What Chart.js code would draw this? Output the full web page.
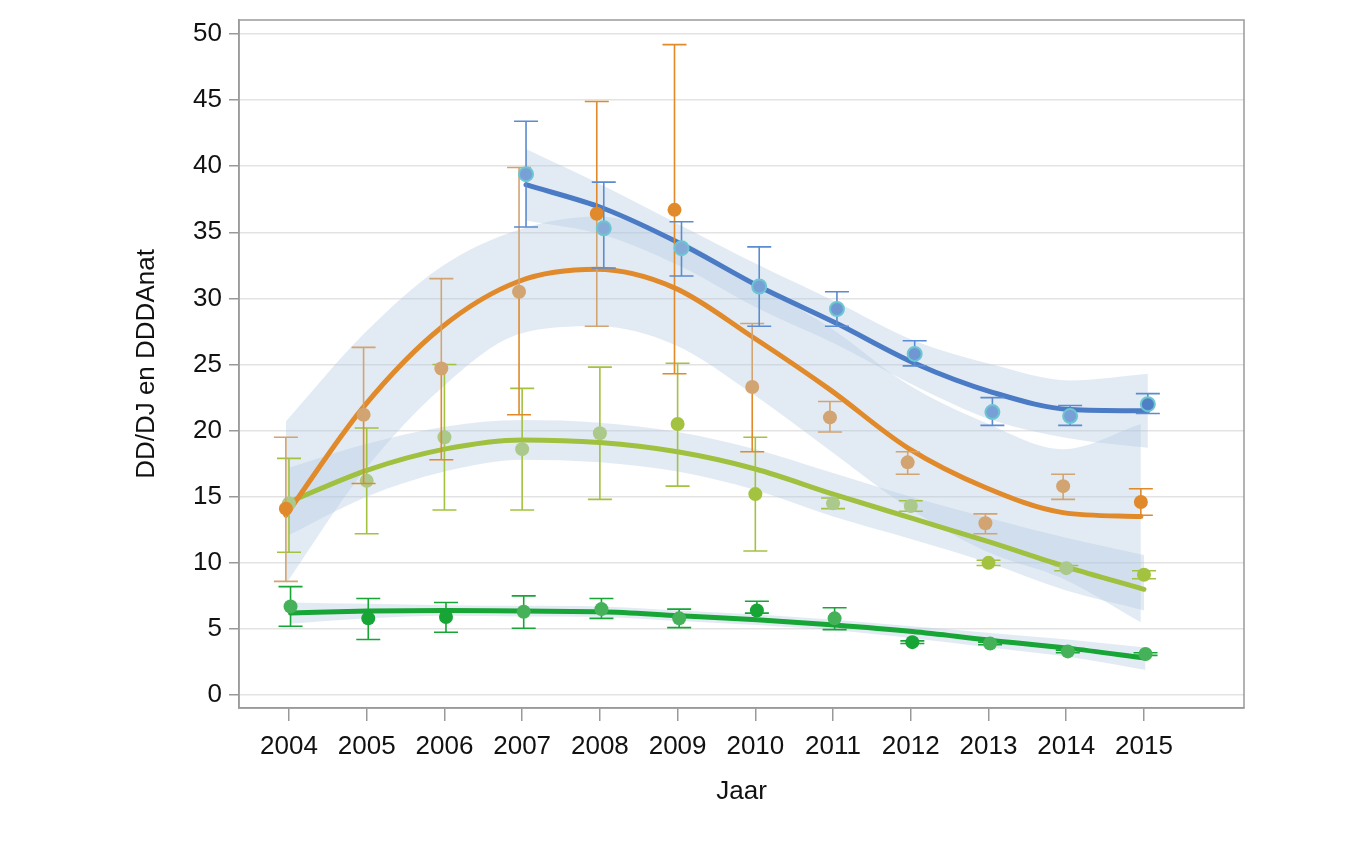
<!DOCTYPE html>
<html>
<head>
<meta charset="utf-8">
<script src="https://cdn.jsdelivr.net/npm/chart.js@4.4.1/dist/chart.umd.min.js"></script>
<style>
    html, body { margin: 0; padding: 0; background: #fff; }
    #chart { display: block; }
</style>
</head>
<body>
<canvas id="chart" width="1372" height="850"></canvas>
<script>
// Axis data
const years = [2004, 2005, 2006, 2007, 2008, 2009, 2010, 2011, 2012, 2013, 2014, 2015];
const blueYears = [2007, 2008, 2009, 2010, 2011, 2012, 2013, 2014, 2015];
const yTicks = [0, 5, 10, 15, 20, 25, 30, 35, 40, 45, 50];

// Blue series (2007-2015)
const bluePts = [39.4, 35.3, 33.8, 30.9, 29.2, 25.8, 21.4, 21.1, 22.0];
const blueLo = [35.4, 32.3, 31.7, 27.9, 27.9, 24.9, 20.4, 20.4, 21.3];
const blueHi = [43.4, 38.8, 35.8, 33.9, 30.5, 26.8, 22.5, 21.9, 22.8];
const blueFit = [38.6, 36.8, 34.1, 30.9, 28.1, 25.1, 22.9, 21.6, 21.5];
const blueBandLo = [35.9, 34.8, 32.4, 29.2, 26.5, 23.4, 20.8, 19.4, 18.7];
const blueBandHi = [41.3, 38.5, 35.5, 32.5, 29.7, 26.8, 25.0, 23.8, 24.3];

// Orange series
const orangePts = [14.1, 21.2, 24.7, 30.5, 36.4, 36.7, 23.3, 21.0, 17.6, 13.0, 15.8, 14.6];
const orangeLo = [8.6, 16.0, 17.8, 21.2, 27.9, 24.3, 18.4, 19.9, 16.7, 12.2, 14.8, 13.6];
const orangeHi = [19.5, 26.3, 31.5, 39.9, 44.9, 49.2, 28.1, 22.2, 18.4, 13.7, 16.7, 15.6];
const orangeFit = [13.6, 21.8, 27.8, 31.3, 32.2, 30.8, 27.1, 23.1, 18.7, 15.7, 13.8, 13.5];
const orangeBandLo = [8.4, 16.9, 23.2, 27.3, 27.9, 26.5, 22.8, 18.5, 14.2, 10.9, 8.8, 5.5];
const orangeBandHi = [20.7, 27.3, 32.4, 35.2, 36.2, 34.6, 31.2, 27.8, 23.5, 20.6, 18.6, 20.5];

// Light green series
const limePts = [14.5, 16.2, 19.5, 18.6, 19.8, 20.5, 15.2, 14.5, 14.3, 10.0, 9.6, 9.1];
const limeLo = [10.8, 12.2, 14.0, 14.0, 14.8, 15.8, 10.9, 14.1, 13.9, 9.8, 9.4, 8.8];
const limeHi = [17.9, 20.2, 25.0, 23.2, 24.8, 25.1, 19.5, 14.9, 14.7, 10.2, 9.8, 9.4];
const limeFit = [14.6, 17.0, 18.6, 19.3, 19.1, 18.4, 17.1, 15.2, 13.4, 11.6, 9.7, 8.0];
const limeBandLo = [12.1, 15.0, 16.9, 17.8, 17.6, 16.9, 15.5, 13.5, 11.8, 10.0, 7.9, 6.4];
const limeBandHi = [17.2, 19.0, 20.3, 20.8, 20.6, 19.9, 18.6, 16.8, 15.0, 13.4, 11.9, 10.6];

// Dark green series
const greenPts = [6.7, 5.8, 5.9, 6.3, 6.5, 5.8, 6.4, 5.8, 4.0, 3.9, 3.3, 3.1];
const greenLo = [5.2, 4.2, 4.75, 5.05, 5.8, 5.1, 6.2, 4.95, 3.9, 3.8, 3.2, 3.0];
const greenHi = [8.2, 7.3, 7.0, 7.5, 7.3, 6.5, 7.1, 6.6, 4.1, 4.0, 3.4, 3.2];
const greenFit = [6.2, 6.35, 6.4, 6.35, 6.3, 6.0, 5.7, 5.3, 4.8, 4.15, 3.55, 2.8];
const greenBandLo = [5.4, 5.8, 6.0, 5.95, 5.9, 5.6, 5.3, 4.9, 4.3, 3.6, 2.9, 1.9];
const greenBandHi = [7.0, 6.9, 6.8, 6.75, 6.7, 6.4, 6.1, 5.7, 5.2, 4.7, 4.2, 3.6];

const FONT = "'Liberation Sans', Arial, sans-serif";
const BAND = 'rgba(176, 200, 226, 0.37)';

// colours
const OR = '#e08a2b', TAN = '#d2a471';
const LIME = '#a3c23f', SAGE = '#abc98a';
const DG = '#17a535', LG = '#45b25a';

const series = [
    {
        xs: blueYears, dx: 0.05, pts: bluePts, lo: blueLo, hi: blueHi,
        fit: blueFit, bandLo: blueBandLo, bandHi: blueBandHi,
        line: '#4a7bc4',
        fill: ['#78a0d6', '#86aad8', '#86aad8', '#78a0d6', '#6f98d3', '#6f98d3', '#78a0d6', '#78a0d6', '#4f7fc4'],
        border: '#6cc6d2', borderW: 2,
        barHi: Array(9).fill('#5b8bd0'), barLo: Array(9).fill('#5b8bd0')
    },
    {
        xs: years, dx: -0.04, pts: orangePts, lo: orangeLo, hi: orangeHi,
        fit: orangeFit, bandLo: orangeBandLo, bandHi: orangeBandHi,
        line: OR,
        fill: [OR, TAN, TAN, TAN, OR, OR, TAN, TAN, TAN, TAN, TAN, OR],
        border: 'rgba(0,0,0,0)', borderW: 0,
        barHi: [TAN, TAN, TAN, TAN, OR, OR, TAN, TAN, TAN, TAN, TAN, OR],
        barLo: [TAN, OR, OR, OR, TAN, OR, OR, TAN, TAN, TAN, TAN, OR]
    },
    {
        xs: years, dx: 0, pts: limePts, lo: limeLo, hi: limeHi,
        fit: limeFit, bandLo: limeBandLo, bandHi: limeBandHi,
        line: '#a0c040',
        fill: [SAGE, SAGE, SAGE, SAGE, SAGE, LIME, LIME, SAGE, SAGE, LIME, SAGE, LIME],
        border: 'rgba(0,0,0,0)', borderW: 0,
        barHi: Array(12).fill(LIME), barLo: Array(12).fill(LIME)
    },
    {
        xs: years, dx: 0.02, pts: greenPts, lo: greenLo, hi: greenHi,
        fit: greenFit, bandLo: greenBandLo, bandHi: greenBandHi,
        line: DG,
        fill: [LG, DG, DG, LG, LG, LG, DG, LG, DG, LG, LG, LG],
        border: 'rgba(0,0,0,0)', borderW: 0,
        barHi: Array(12).fill(DG), barLo: Array(12).fill(DG)
    }
];

function toXY(xs, ys, dx) {
    return xs.map((x, i) => ({ x: x + dx, y: ys[i] }));
}

const datasets = [];
series.forEach(s => {
    // confidence band: upper edge filled down to the lower edge
    datasets.push({
        data: toXY(s.xs, s.bandHi, s.dx),
        borderWidth: 0, pointRadius: 0, fill: '+1',
        backgroundColor: BAND, borderColor: 'rgba(0,0,0,0)',
        cubicInterpolationMode: 'monotone', order: 30
    });
    datasets.push({
        data: toXY(s.xs, s.bandLo, s.dx),
        borderWidth: 0, pointRadius: 0, fill: false,
        borderColor: 'rgba(0,0,0,0)',
        cubicInterpolationMode: 'monotone', order: 30
    });
    // fitted curve
    datasets.push({
        data: toXY(s.xs, s.fit, s.dx),
        borderColor: s.line, borderWidth: 5, pointRadius: 0, fill: false,
        cubicInterpolationMode: 'monotone', borderCapStyle: 'round', order: 20
    });
    // observed points with error bars
    datasets.push({
        data: toXY(s.xs, s.pts, s.dx),
        showLine: false, pointRadius: 7, pointHoverRadius: 7,
        pointBackgroundColor: s.fill, pointBorderColor: s.border,
        pointBorderWidth: s.borderW,
        errLo: s.lo, errHi: s.hi, barHi: s.barHi, barLo: s.barLo,
        order: 10
    });
});

const errorBars = {
    id: 'errorBars',
    beforeDatasetDraw(chart, args) {
        const ds = chart.data.datasets[args.index];
        if (!ds.errLo) return;
        const { ctx } = chart;
        const x = chart.scales.x, y = chart.scales.y;
        const cap = 12;
        ctx.save();
        ctx.lineWidth = 1.6;
        ds.data.forEach((p, i) => {
            const px = x.getPixelForValue(p.x);
            const py = y.getPixelForValue(p.y);
            const ph = y.getPixelForValue(ds.errHi[i]);
            const pl = y.getPixelForValue(ds.errLo[i]);
            ctx.strokeStyle = ds.barHi[i];
            ctx.beginPath();
            ctx.moveTo(px, py); ctx.lineTo(px, ph);
            ctx.moveTo(px - cap, ph); ctx.lineTo(px + cap, ph);
            ctx.stroke();
            ctx.strokeStyle = ds.barLo[i];
            ctx.beginPath();
            ctx.moveTo(px, py); ctx.lineTo(px, pl);
            ctx.moveTo(px - cap, pl); ctx.lineTo(px + cap, pl);
            ctx.stroke();
        });
        ctx.restore();
    }
};

const frame = {
    id: 'frame',
    afterDatasetsDraw(chart) {
        const { ctx, chartArea: a } = chart;
        ctx.save();
        ctx.strokeStyle = '#9a9a9a';
        ctx.lineWidth = 1.5;
        ctx.strokeRect(a.left, a.top, a.right - a.left, a.bottom - a.top);
        ctx.restore();
    }
};

new Chart(document.getElementById('chart'), {
    type: 'line',
    data: { datasets: datasets },
    plugins: [errorBars, frame],
    options: {
        responsive: false,
        devicePixelRatio: 1,
        animation: false,
        layout: { padding: { left: 0, top: 18, right: 128, bottom: 0 } },
        plugins: {
            legend: { display: false },
            tooltip: { enabled: false }
        },
        scales: {
            x: {
                type: 'linear',
                min: 2003.357,
                max: 2016.287,
                afterBuildTicks: s => { s.ticks = years.map(v => ({ value: v })); },
                afterFit: s => { s.height = 142; },
                grid: { drawOnChartArea: false, tickLength: 13, color: '#999', lineWidth: 1.5 },
                border: { color: '#999', width: 1.5 },
                ticks: {
                    color: '#111',
                    padding: 10,
                    font: { family: FONT, size: 26 },
                    callback: v => String(v)
                },
                title: {
                    display: true,
                    text: 'Jaar',
                    color: '#111',
                    font: { family: FONT, size: 26 },
                    padding: { top: 0, bottom: 43 }
                }
            },
            y: {
                type: 'linear',
                min: -0.98,
                max: 51.06,
                afterBuildTicks: s => { s.ticks = yTicks.map(v => ({ value: v })); },
                afterFit: s => { s.width = 239; },
                grid: { color: '#e3e3e3', tickColor: '#999', tickLength: 10, lineWidth: 1.5 },
                border: { color: '#999', width: 1.5 },
                ticks: {
                    color: '#111',
                    padding: 7,
                    font: { family: FONT, size: 26, lineHeight: 1 }
                },
                title: {
                    display: true,
                    text: 'DD/DJ en DDDAnat',
                    color: '#111',
                    font: { family: FONT, size: 26 },
                    padding: { top: 131, bottom: 0 }
                }
            }
        }
    }
});
</script>
</body>
</html>
